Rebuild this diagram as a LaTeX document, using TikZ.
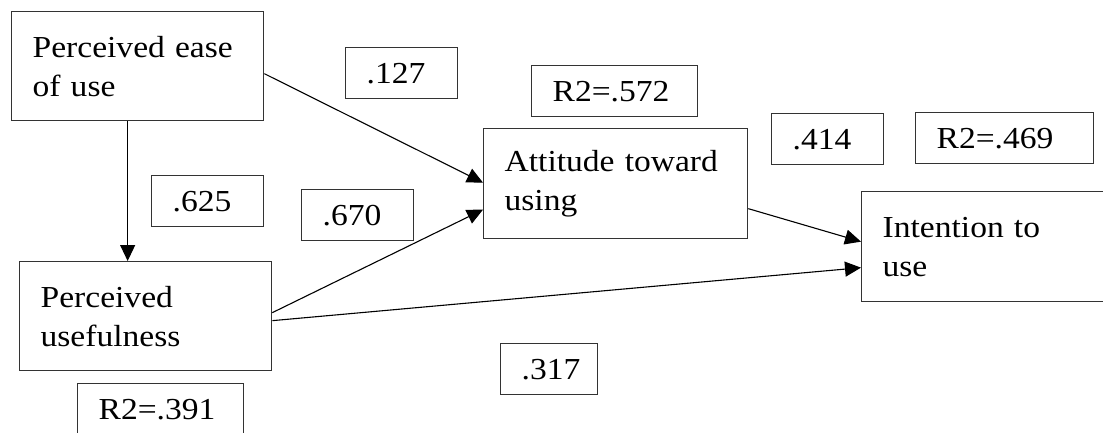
\documentclass[tikz,border=0pt]{standalone}
\usepackage{fontspec}
\setmainfont{Liberation Serif}[FakeStretch=1.1]
\usetikzlibrary{positioning,arrows.meta}

\begin{document}
\begin{tikzpicture}[
x=1pt,y=-1pt,
box/.style={
  draw=black!80,
  line width=1.3pt,
  anchor=north west,
  inner xsep=21pt,
  inner ysep=0pt,
  align=left,
  font=\fontsize{30.5}{39}\selectfont
  },
construct/.style={
  box,
  text width=#1,
  minimum height=110pt
  },
coef/.style={
  box,
  text width=#1,
  minimum height=51pt
  },
path/.style={
  ->,
  line width=1.1pt
  },
>={Triangle[length=16pt,width=15pt]}
]
\useasboundingbox (0,0) rectangle (1103,432);
% constructs
\node[construct=210pt,minimum height=109pt] (peou) at (11,11) {Perceived ease\\of use};
\node[construct=210pt,minimum height=109pt] (pu) at (19,261) {Perceived\\usefulness};
\node[construct=222pt] (att) at (483,128) {Attitude toward\\using};
\node[construct=218pt] (itu) at (861,191) {Intention to\\use};
% path coefficients
\node[coef=70pt] (c625) at (151,175) {.625};
\node[coef=70pt] (c127) at (345,47) {.127};
\node[coef=70pt] (c670) at (301,189) {.670};
\node[coef=70pt] (c414) at (771,113) {.414};
\node[coef=55pt] (c317) at (500,343) {.317};
% explained variance
\node[coef=124pt] (r572) at (531,65) {R2=.572};
\node[coef=136pt] (r469) at (915,112) {R2=.469};
\node[coef=124pt] (r391) at (77,383) {R2=.391};
% paths
\draw[path] ([xshift=-10pt]peou.south) -- ([xshift=-10pt]peou.south |- pu.north);
\draw[path] ([yshift=-7.5pt]peou.east) -- ([yshift=1pt]att.west);
\draw[path] ([yshift=3.5pt]pu.east) -- ([yshift=-26pt]att.west);
\draw[path] ([yshift=-4.5pt]pu.east) -- ([yshift=-21pt]itu.west);
\draw[path] ([yshift=-25pt]att.east) -- ([yshift=5pt]itu.west);
\end{tikzpicture}
\end{document}
